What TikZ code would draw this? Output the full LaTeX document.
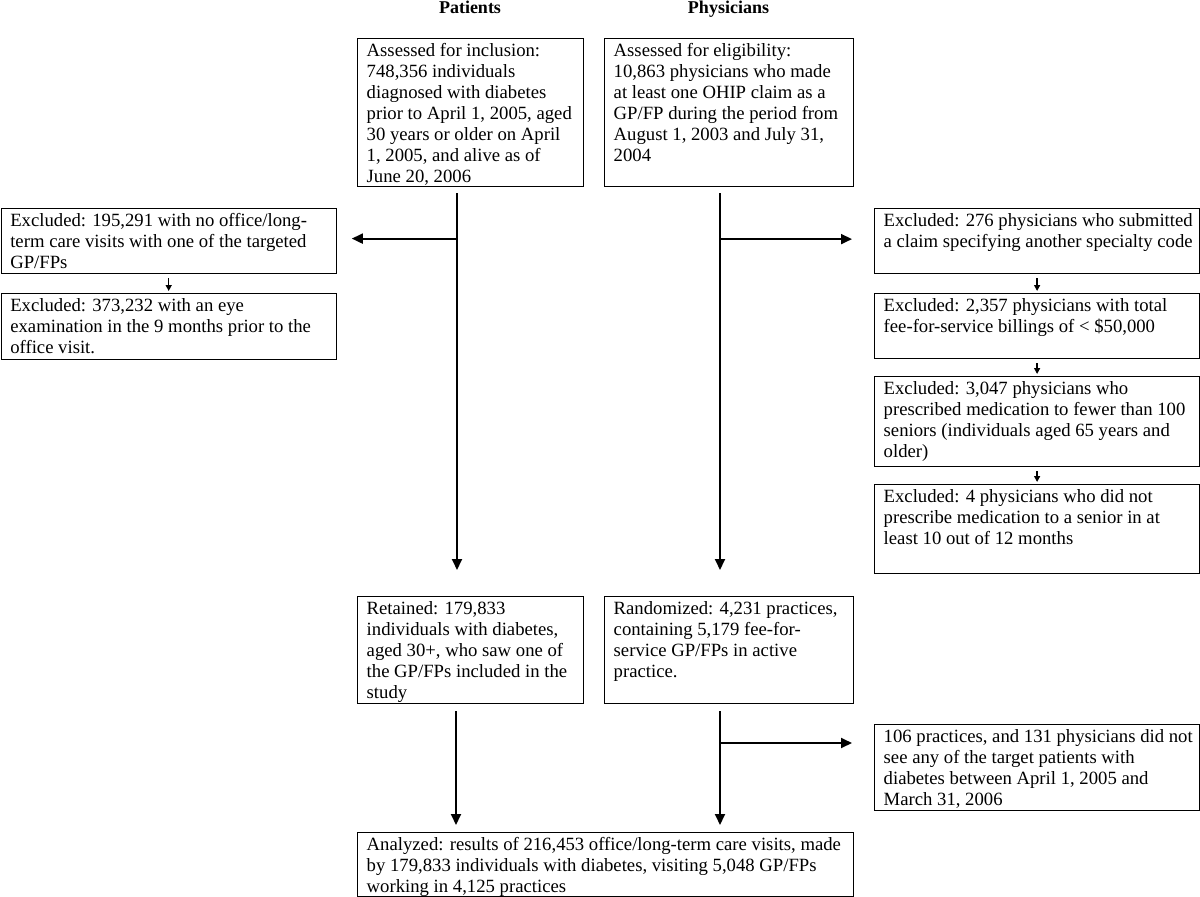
\documentclass[tikz,border=0pt]{standalone}
\usepackage{fontspec}
\setmainfont{Liberation Serif}
\usetikzlibrary{arrows.meta}
\begin{document}
\begin{tikzpicture}[x=1pt,y=-1pt,
  box/.style={draw, line width=1.2pt, anchor=north west, inner sep=0pt},
  txt/.style={anchor=north west, inner sep=0pt, align=left, font=\fontsize{18.7}{21}\selectfont},
  head/.style={anchor=base, inner sep=0pt, font=\fontsize{18}{21}\selectfont\bfseries},
  arr/.style={line width=1.8pt, -{Triangle[length=11pt,width=10pt]}},
  sarr/.style={line width=1.4pt, -{Triangle[length=6pt,width=6pt]}}]
\useasboundingbox (0,0) rectangle (1200,897);
\newcommand{\fbx}[6]{%
  \node[box, minimum width=#4pt, minimum height=#5pt] (#1) at (#2,#3) {};
  \node[txt] (#1t) at ([xshift=9.5pt,yshift=-3.5pt]#1.north west) {\strut #6};}
% headers
\node[head] (hp) at (470,13.5) {Patients};
\node[head] (hd) at (728.5,13.5) {Physicians};
% boxes
\fbx{A}{357}{38}{226}{148}{Assessed for inclusion:\\748,356 individuals\\diagnosed with diabetes\\prior to April 1, 2005, aged\\30 years or older on April\\1, 2005, and alive as of\\June 20, 2006}
\fbx{B}{604}{38}{249}{148}{Assessed for eligibility:\\10,863 physicians who made\\at least one OHIP claim as a\\GP/FP during the period from\\August 1, 2003 and July 31,\\2004}
\fbx{L1}{0.6}{208}{335}{65}{Excluded: 195,291 with no office/long-\\term care visits with one of the targeted\\GP/FPs}
\fbx{L2}{0.6}{293}{335}{66}{Excluded: 373,232 with an eye\\examination in the 9 months prior to the\\office visit.}
\fbx{R1}{874}{208}{325}{65}{Excluded: 276 physicians who submitted\\a claim specifying another specialty code}
\fbx{R2}{874}{293}{325}{65}{Excluded: 2,357 physicians with total\\fee-for-service billings of < \$50,000}
\fbx{R3}{874}{376}{325}{90}{Excluded: 3,047 physicians who\\prescribed medication to fewer than 100\\seniors (individuals aged 65 years and\\older)}
\fbx{R4}{874}{484}{325}{89}{Excluded: 4 physicians who did not\\prescribe medication to a senior in at\\least 10 out of 12 months}
\fbx{C}{357}{596}{226}{107}{Retained: 179,833\\individuals with diabetes,\\aged 30+, who saw one of\\the GP/FPs included in the\\study}
\fbx{D}{604}{596}{249}{107}{Randomized: 4,231 practices,\\containing 5,179 fee-for-\\service GP/FPs in active\\practice.}
\fbx{E}{874}{724}{325}{86}{106 practices, and 131 physicians did not\\see any of the target patients with\\diabetes between April 1, 2005 and\\March 31, 2006}
\fbx{F}{357}{832}{496}{64}{Analyzed: results of 216,453 office/long-term care visits, made\\by 179,833 individuals with diabetes, visiting 5,048 GP/FPs\\working in 4,125 practices}
% connector points
\coordinate (pa) at ([xshift=100pt,yshift=-6pt]A.south west);
\coordinate (pb) at ([xshift=116pt,yshift=-6pt]B.south west);
\coordinate (pc) at ([xshift=99pt,yshift=-7pt]C.south west);
\coordinate (pd) at ([xshift=116pt,yshift=-7pt]D.south west);
\coordinate (pe) at ([yshift=-19pt]E.north west);
\coordinate (pl) at ([yshift=2.5pt]L1.east);
\coordinate (pr) at ([yshift=2pt]R1.west);
% main connectors
\draw[arr, shorten >=26pt] (pa) -- (pa |- C.north);
\draw[arr, shorten >=26pt] (pb) -- (pb |- D.north);
\draw[arr, shorten >=15pt] (pa |- pl) -- (pl);
\draw[arr, shorten >=22pt] (pb |- pr) -- (pr);
\draw[arr, shorten >=7pt] (pc) -- (pc |- F.north);
\draw[arr, shorten >=7pt] (pd) -- (pd |- F.north);
\draw[arr, shorten >=22pt] (pd |- pe) -- (pe);
% small connectors
\draw[sarr] ([yshift=-4pt]L1.south) -- ([yshift=2pt]L2.north);
\draw[sarr] ([yshift=-4pt]R1.south) -- ([yshift=2pt]R2.north);
\draw[sarr] ([yshift=-4pt]R2.south) -- ([yshift=2pt]R3.north);
\draw[sarr] ([yshift=-4pt]R3.south) -- ([yshift=2pt]R4.north);
\end{tikzpicture}
\end{document}
